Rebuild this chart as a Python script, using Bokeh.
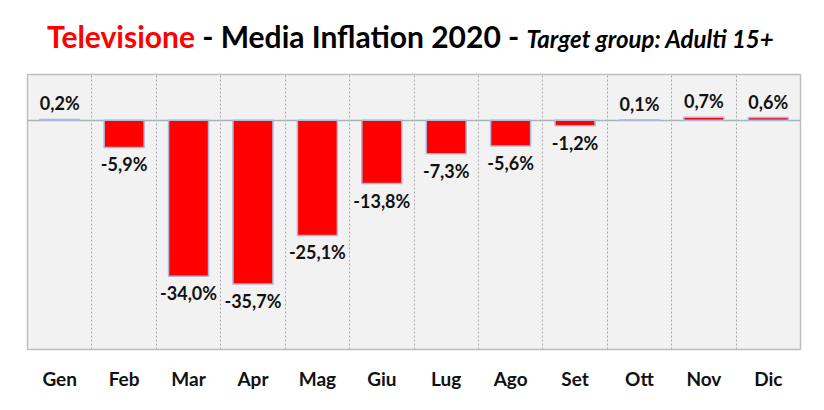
from bokeh.plotting import figure
from bokeh.models import ColumnDataSource, FixedTicker, Range1d, FactorRange, Div
from bokeh.layouts import column
from bokeh.core.properties import value
from bokeh.embed import file_html
from bokeh.resources import INLINE

months = ["Gen", "Feb", "Mar", "Apr", "Mag", "Giu", "Lug", "Ago", "Set", "Ott", "Nov", "Dic"]
inflation = [0.2, -5.9, -34.0, -35.7, -25.1, -13.8, -7.3, -5.6, -1.2, 0.1, 0.7, 0.6]
labels = [("%.1f%%" % v).replace(".", ",") for v in inflation]

title_red = "Televisione"
title_black = " - Media Inflation 2020 - "
title_italic = "Target group: Adulti 15+"

FONT = "Lato"

src = ColumnDataSource(dict(
    month=months,
    val=inflation,
    lab=labels,
    base=["bottom" if v >= 0 else "top" for v in inflation],
    yoff=[-5 if v >= 0 else 6 for v in inflation],
))

title = Div(
    text=('<span style="color:#FF0000">%s</span>%s'
          '<span style="font-style:italic;font-size:24px">%s</span>'
          % (title_red, title_black.replace(" ", "&nbsp;", 1), title_italic)),
    width=816, height=73, margin=(0, 0, 0, 0),
    styles={"font-family": "Lato", "font-weight": "bold", "font-size": "30px",
            "color": "#000000", "line-height": "36px", "padding-top": "18px",
            "padding-left": "47px", "white-space": "nowrap"},
)

p = figure(width=816, height=328, x_range=FactorRange(*months), y_range=Range1d(-50, 10),
           output_backend="svg", toolbar_location=None, margin=(0, 0, 0, 0),
           min_border_left=27, min_border_right=16, min_border_top=1, min_border_bottom=52)

p.background_fill_color = "#F2F2F2"
p.border_fill_color = "white"
p.outline_line_color = "#BFBFBF"
p.outline_line_width = 1.5

p.yaxis.visible = False
p.ygrid.ticker = FixedTicker(ticks=[0])
p.ygrid.grid_line_color = "#A9B4B8"
p.ygrid.grid_line_width = 1.5

p.xgrid.ticker = FixedTicker(ticks=list(range(1, len(months))))
p.xgrid.grid_line_color = "#A6A6A6"
p.xgrid.grid_line_dash = "2 2"
p.xgrid.grid_line_width = 1

p.xaxis.axis_line_color = None
p.xaxis.major_tick_line_color = None
p.xaxis.minor_tick_line_color = None
p.xaxis.major_label_text_font = FONT
p.xaxis.major_label_text_font_style = "bold"
p.xaxis.major_label_text_font_size = "19px"
p.xaxis.major_label_text_color = "#111111"
p.xaxis.major_label_standoff = 11

p.vbar(x="month", top="val", bottom=0, width=0.62, source=src,
       fill_color="#FF0000", line_color="#A9B8DC", line_width=1.5)

p.text(x="month", y="val", text="lab", source=src, text_align="center",
       text_baseline="base", y_offset="yoff", text_font=value(FONT),
       text_font_style="bold", text_font_size="18px", text_color="#111111")

layout = column(title, p, spacing=0)

open("out.html", "w").write(file_html(layout, INLINE))
